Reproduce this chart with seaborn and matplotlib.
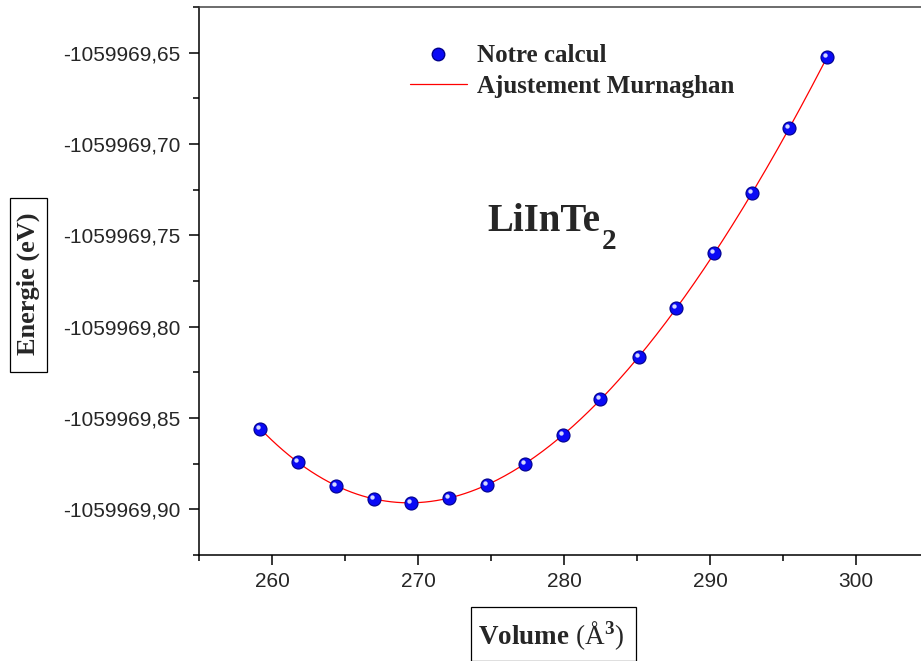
import numpy as np
import pandas as pd
import matplotlib
matplotlib.use("Agg")
import matplotlib.pyplot as plt
import matplotlib.transforms as mtransforms
from matplotlib.lines import Line2D
from matplotlib.patches import Rectangle
from matplotlib.ticker import FuncFormatter, MultipleLocator
import seaborn as sns

# Calculated total energies of LiInTe2 versus cell volume
volume = [259.20, 261.78, 264.38, 266.97, 269.54, 272.14, 274.73, 277.33,
          279.91, 282.49, 285.12, 287.69, 290.29, 292.86, 295.43, 298.01]
energy = [-1059969.8560, -1059969.8742, -1059969.8872, -1059969.8943,
          -1059969.8965, -1059969.8936, -1059969.8865, -1059969.8751,
          -1059969.8594, -1059969.8397, -1059969.8166, -1059969.7899,
          -1059969.7598, -1059969.7270, -1059969.6914, -1059969.6526]

legend_labels = ["Notre calcul", "Ajustement Murnaghan"]
compound = "LiInTe"
compound_sub = "2"
xlabel = r"$\mathbf{Volume}$ (Å$^\mathbf{3}$)"
ylabel = "Energie (eV)"

x_ticks = [260, 270, 280, 290, 300]
y_ticks = [-1059969.90, -1059969.85, -1059969.80, -1059969.75,
           -1059969.70, -1059969.65]

# ---- Murnaghan equation-of-state fit (E0, B0 linear; V0, B0' on a grid) ----
V = np.asarray(volume)
E = np.asarray(energy)
e_ref = E.mean()
Er = E - e_ref
V0g = np.linspace(262.0, 278.0, 801)[:, None, None]
Bpg = np.linspace(1.5, 12.0, 211)[None, :, None]
f = V / Bpg * ((V0g / V) ** Bpg / (Bpg - 1.0) + 1.0) - V0g / (Bpg - 1.0)
fm = f.mean(axis=-1, keepdims=True)
em = Er.mean()
B0 = ((f - fm) * (Er - em)).sum(-1, keepdims=True) / ((f - fm) ** 2).sum(-1, keepdims=True)
E0 = em - B0 * fm
res = ((E0 + B0 * f - Er) ** 2).sum(-1)
i, j = np.unravel_index(np.argmin(res), res.shape)
v0, bp = V0g[i, 0, 0], Bpg[0, j, 0]
b0, e0 = B0[i, j, 0], E0[i, j, 0]

def murnaghan(v):
    return e_ref + e0 + b0 * (v / bp * ((v0 / v) ** bp / (bp - 1.0) + 1.0) - v0 / (bp - 1.0))

v_fit = np.linspace(V.min(), V.max(), 300)
fit_df = pd.DataFrame({"volume": v_fit, "energy": murnaghan(v_fit)})
pts_df = pd.DataFrame({"volume": volume, "energy": energy})

# ---- style ----
sns.set_style("ticks")
plt.rcParams["font.family"] = ["Liberation Sans", "DejaVu Sans"]
plt.rcParams["mathtext.fontset"] = "custom"
plt.rcParams["mathtext.rm"] = "Liberation Serif"
plt.rcParams["mathtext.bf"] = "Liberation Serif:bold"
plt.rcParams["mathtext.it"] = "Liberation Serif:italic"

W, H = 921, 661
fig = plt.figure(figsize=(W / 100, H / 100), dpi=100)
ax = fig.add_axes([199 / W, 106 / H, 730 / W, 548 / H])

sns.lineplot(data=fit_df, x="volume", y="energy", ax=ax, color="#ff0000",
             linewidth=0.9, zorder=2, legend=False)
sns.scatterplot(data=pts_df, x="volume", y="energy", ax=ax, s=88,
                color="#0a0af5", edgecolor="#00008c", linewidth=0.8,
                zorder=3, legend=False)
# specular highlight for the sphere-like markers
shine = ax.transData + mtransforms.ScaledTranslation(-1.5 / 72, 1.5 / 72,
                                                     fig.dpi_scale_trans)
ax.scatter(pts_df["volume"], pts_df["energy"], s=10, color="#d4d8ff",
           linewidths=0, zorder=4, transform=shine)

ax.set_xlim(255, 305)
ax.set_ylim(-1059969.925, -1059969.625)
ax.set_xticks(x_ticks)
ax.set_yticks(y_ticks)
ax.xaxis.set_minor_locator(MultipleLocator(5))
ax.yaxis.set_minor_locator(MultipleLocator(0.025))
ax.yaxis.set_major_formatter(FuncFormatter(lambda v, p: f"{v:.2f}".replace(".", ",")))
ax.xaxis.set_major_formatter(FuncFormatter(lambda v, p: f"{v:.0f}"))
ax.tick_params(axis="both", which="major", direction="out", length=7.5,
               width=1.1, labelsize=15, color="black")
ax.tick_params(axis="y", which="major", pad=6)
ax.tick_params(axis="x", which="major", pad=5)
ax.tick_params(axis="both", which="minor", direction="out", length=4,
               width=1.1, color="black")
ax.set_xlabel("")
ax.set_ylabel("")
for side in ["left", "bottom", "top"]:
    ax.spines[side].set_linewidth(1.1)
    ax.spines[side].set_color("black")
ax.spines["top"].set_color("#444444")
ax.spines["right"].set_visible(False)

handles = [
    Line2D([], [], marker="o", linestyle="none", markersize=9,
           markerfacecolor="#0a0af5", markeredgecolor="#00008c"),
    Line2D([], [], color="#ff0000", linewidth=0.9),
]
fig.legend(handles, legend_labels, loc="upper left",
           bbox_to_anchor=(397 / W, 1 - 32 / H), bbox_transform=fig.transFigure,
           frameon=False, borderpad=0, handlelength=2.3, handletextpad=0.4,
           labelspacing=0.3, prop={"family": "Liberation Serif",
                                   "weight": "bold", "size": 18})

main = fig.text(487 / W, 1 - 231 / H, compound, family="Liberation Serif",
                weight="bold", size=28, ha="left", va="baseline")
ax.annotate(compound_sub, xy=(1.0, 0.0), xycoords=main,
            xytext=(1, -6.5), textcoords="offset points",
            family="Liberation Serif", weight="bold", size=21,
            ha="left", va="baseline")

# framed axis titles
fig.add_artist(Rectangle((10 / W, 1 - 372 / H), 37 / W, 174 / H,
                         transform=fig.transFigure, fc="white", ec="black",
                         lw=0.9))
fig.text(28.5 / W, 1 - 284 / H, ylabel, family="Liberation Serif",
         weight="bold", size=19, rotation=90, ha="center", va="center")
fig.add_artist(Rectangle((471 / W, 0.5 / H), 165 / W, 53.5 / H,
                         transform=fig.transFigure, fc="white", ec="black",
                         lw=0.9))
fig.text(551 / W, 1 - 636 / H, xlabel, family="Liberation Serif",
         size=19.5, ha="center", va="center")

fig.savefig("out.png", dpi=100)
